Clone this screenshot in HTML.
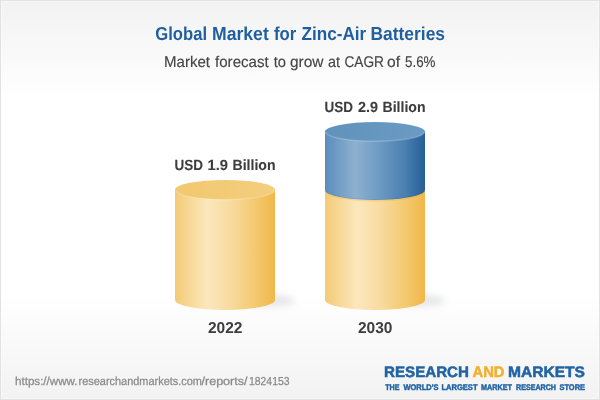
<!DOCTYPE html>
<html><head><meta charset="utf-8"><style>
html,body{margin:0;padding:0;width:600px;height:400px;overflow:hidden;background:#fff}
svg{display:block;will-change:transform}
text{font-family:"Liberation Sans",sans-serif;text-rendering:geometricPrecision}
</style></head><body>
<svg width="600" height="400" viewBox="0 0 600 400">
<defs>
  <linearGradient id="bg" x1="0" y1="0" x2="0" y2="1">
    <stop offset="0" stop-color="#f2f2f2"/>
    <stop offset="0.25" stop-color="#ffffff"/>
    <stop offset="0.74" stop-color="#ffffff"/>
    <stop offset="1" stop-color="#f2f2f2"/>
  </linearGradient>
  <linearGradient id="ySide" x1="0" y1="0" x2="1" y2="0">
    <stop offset="0" stop-color="#f3cb76"/>
    <stop offset="0.32" stop-color="#fce7bd"/>
    <stop offset="0.55" stop-color="#f8dba0"/>
    <stop offset="0.8" stop-color="#f4c96f"/>
    <stop offset="1" stop-color="#f1b74a"/>
  </linearGradient>
  <linearGradient id="yTop" x1="0" y1="0" x2="1" y2="0">
    <stop offset="0" stop-color="#f2c870"/>
    <stop offset="1" stop-color="#f4ce7e"/>
  </linearGradient>
  <linearGradient id="bTop" x1="0" y1="0" x2="1" y2="0">
    <stop offset="0" stop-color="#6092bd"/>
    <stop offset="1" stop-color="#6b9bc3"/>
  </linearGradient>
  <linearGradient id="bSide" x1="0" y1="0" x2="1" y2="0">
    <stop offset="0" stop-color="#5b8dbc"/>
    <stop offset="0.3" stop-color="#8eb0cf"/>
    <stop offset="0.55" stop-color="#6c9ac3"/>
    <stop offset="0.8" stop-color="#4a7fb1"/>
    <stop offset="1" stop-color="#255f98"/>
  </linearGradient>
  <filter id="blur" x="-50%" y="-100%" width="200%" height="300%"><feGaussianBlur stdDeviation="3.5"/></filter>
</defs>
<rect x="0" y="0" width="600" height="400" fill="url(#bg)"/>
<rect x="1.5" y="1.5" width="597" height="397" fill="none" stroke="#ffffff" stroke-opacity="0.4" stroke-width="1"/>
<rect x="0.5" y="0.5" width="599" height="399" fill="none" stroke="#e2e2e2" stroke-width="1"/>

<!-- cylinder 1 (2022) -->
<ellipse cx="268" cy="300.5" rx="27" ry="6" fill="#a2a7b3" fill-opacity="0.27" filter="url(#blur)"/>
<path d="M175 189.8 L175 300 A50 10 0 0 0 275 300 L275 189.8 Z" fill="url(#ySide)"/>
<ellipse cx="225" cy="189.8" rx="50" ry="9.8" fill="url(#yTop)"/>
<path d="M175.8 190.1 A49.2 9.6 0 0 0 274.2 190.1" fill="none" stroke="#fff" stroke-opacity="0.22" stroke-width="1.4"/>

<!-- cylinder 2 (2030) -->
<ellipse cx="418" cy="300.5" rx="27" ry="6" fill="#a2a7b3" fill-opacity="0.27" filter="url(#blur)"/>
<path d="M325 190 L325 300 A50 10 0 0 0 425 300 L425 190 Z" fill="url(#ySide)"/>
<path d="M325 131.6 L325 190 A50 10 0 0 0 425 190 L425 131.6 Z" fill="url(#bSide)"/>
<path d="M325.3 190.8 A49.7 10 0 0 0 424.7 190.8" fill="none" stroke="#e0a020" stroke-opacity="0.22" stroke-width="1.4"/>
<path d="M325.3 189.6 A49.7 10 0 0 0 424.7 189.6" fill="none" stroke="#1a4f80" stroke-opacity="0.12" stroke-width="1"/>
<ellipse cx="375" cy="131.6" rx="50" ry="9.5" fill="url(#bTop)"/>
<path d="M325.8 131.9 A49.2 9.3 0 0 0 424.2 131.9" fill="none" stroke="#fff" stroke-opacity="0.2" stroke-width="1.4"/>

<text x="155.25" y="40" font-size="18.8" font-weight="bold" fill="#1f5f9f" textLength="51.75" lengthAdjust="spacingAndGlyphs">Global</text>
<text x="212.00" y="40" font-size="18.8" font-weight="bold" fill="#1f5f9f" textLength="56.75" lengthAdjust="spacingAndGlyphs">Market</text>
<text x="274.00" y="40" font-size="18.8" font-weight="bold" fill="#1f5f9f" textLength="22.25" lengthAdjust="spacingAndGlyphs">for</text>
<text x="301.50" y="40" font-size="18.8" font-weight="bold" fill="#1f5f9f" textLength="64.75" lengthAdjust="spacingAndGlyphs">Zinc-Air</text>
<text x="370.50" y="40" font-size="18.8" font-weight="bold" fill="#1f5f9f" textLength="74.50" lengthAdjust="spacingAndGlyphs">Batteries</text>
<text x="164.00" y="67" font-size="15.5" fill="#454545" stroke="#454545" stroke-width="0.15" textLength="46.00" lengthAdjust="spacingAndGlyphs">Market</text>
<text x="215.00" y="67" font-size="15.5" fill="#454545" stroke="#454545" stroke-width="0.15" textLength="53.75" lengthAdjust="spacingAndGlyphs">forecast</text>
<text x="273.75" y="67" font-size="15.5" fill="#454545" stroke="#454545" stroke-width="0.15" textLength="12.25" lengthAdjust="spacingAndGlyphs">to</text>
<text x="290.00" y="67" font-size="15.5" fill="#454545" stroke="#454545" stroke-width="0.15" textLength="33.50" lengthAdjust="spacingAndGlyphs">grow</text>
<text x="328.00" y="67" font-size="15.5" fill="#454545" stroke="#454545" stroke-width="0.15" textLength="12.00" lengthAdjust="spacingAndGlyphs">at</text>
<text x="344.50" y="67" font-size="15.5" fill="#454545" stroke="#454545" stroke-width="0.15" textLength="39.50" lengthAdjust="spacingAndGlyphs">CAGR</text>
<text x="387.00" y="67" font-size="15.5" fill="#454545" stroke="#454545" stroke-width="0.15" textLength="13.00" lengthAdjust="spacingAndGlyphs">of</text>
<text x="405.00" y="67" font-size="15.5" fill="#454545" stroke="#454545" stroke-width="0.15" textLength="30.50" lengthAdjust="spacingAndGlyphs">5.6%</text>
<text x="174.50" y="170" font-size="14.7" font-weight="bold" fill="#3d3d3d" stroke="#3d3d3d" stroke-width="0.1" textLength="28.50" lengthAdjust="spacingAndGlyphs">USD</text>
<text x="207.50" y="170" font-size="14.7" font-weight="bold" fill="#3d3d3d" stroke="#3d3d3d" stroke-width="0.1" textLength="20.50" lengthAdjust="spacingAndGlyphs">1.9</text>
<text x="232.50" y="170" font-size="14.7" font-weight="bold" fill="#3d3d3d" stroke="#3d3d3d" stroke-width="0.1" textLength="43.00" lengthAdjust="spacingAndGlyphs">Billion</text>
<text x="324.50" y="112" font-size="14.7" font-weight="bold" fill="#3d3d3d" stroke="#3d3d3d" stroke-width="0.1" textLength="28.50" lengthAdjust="spacingAndGlyphs">USD</text>
<text x="358.00" y="112" font-size="14.7" font-weight="bold" fill="#3d3d3d" stroke="#3d3d3d" stroke-width="0.1" textLength="20.00" lengthAdjust="spacingAndGlyphs">2.9</text>
<text x="382.50" y="112" font-size="14.7" font-weight="bold" fill="#3d3d3d" stroke="#3d3d3d" stroke-width="0.1" textLength="43.00" lengthAdjust="spacingAndGlyphs">Billion</text>
<text x="208.00" y="333" font-size="15.8" font-weight="bold" fill="#3d3d3d" textLength="34.50" lengthAdjust="spacingAndGlyphs">2022</text>
<text x="358.00" y="333" font-size="15.8" font-weight="bold" fill="#3d3d3d" textLength="34.50" lengthAdjust="spacingAndGlyphs">2030</text>
<text x="15.00" y="385" font-size="11.6" fill="#8a8a8a" stroke="#8a8a8a" stroke-width="0.25" textLength="62.50" lengthAdjust="spacingAndGlyphs">https://www.</text>
<text x="78.50" y="385" font-size="11.6" fill="#8a8a8a" stroke="#8a8a8a" stroke-width="0.25" textLength="123.50" lengthAdjust="spacingAndGlyphs">researchandmarkets.com</text>
<text x="201.50" y="385" font-size="11.6" fill="#8a8a8a" stroke="#8a8a8a" stroke-width="0.25" textLength="46.00" lengthAdjust="spacingAndGlyphs">/reports/</text>
<text x="249.00" y="385" font-size="11.6" fill="#8a8a8a" stroke="#8a8a8a" stroke-width="0.25" textLength="40.50" lengthAdjust="spacingAndGlyphs">1824153</text>
<text x="384.00" y="377" font-size="15.2" font-weight="bold" fill="#2164a4" stroke="#2164a4" stroke-width="0.5" textLength="85.00" lengthAdjust="spacingAndGlyphs">RESEARCH</text>
<text x="472.50" y="377" font-size="15.2" font-weight="bold" fill="#f2b02d" stroke="#f2b02d" stroke-width="0.5" textLength="32.00" lengthAdjust="spacingAndGlyphs">AND</text>
<text x="508.00" y="377" font-size="15.2" font-weight="bold" fill="#2164a4" stroke="#2164a4" stroke-width="0.5" textLength="77.00" lengthAdjust="spacingAndGlyphs">MARKETS</text>
<text x="385.20" y="389.5" font-size="8.2" font-weight="bold" fill="#2164a4" stroke="#2164a4" stroke-width="0.45" textLength="14.30" lengthAdjust="spacingAndGlyphs">THE</text>
<text x="403.50" y="389.5" font-size="8.2" font-weight="bold" fill="#2164a4" stroke="#2164a4" stroke-width="0.45" textLength="35.00" lengthAdjust="spacingAndGlyphs">WORLD'S</text>
<text x="441.50" y="389.5" font-size="8.2" font-weight="bold" fill="#2164a4" stroke="#2164a4" stroke-width="0.45" textLength="36.00" lengthAdjust="spacingAndGlyphs">LARGEST</text>
<text x="481.00" y="389.5" font-size="8.2" font-weight="bold" fill="#2164a4" stroke="#2164a4" stroke-width="0.45" textLength="31.00" lengthAdjust="spacingAndGlyphs">MARKET</text>
<text x="516.00" y="389.5" font-size="8.2" font-weight="bold" fill="#2164a4" stroke="#2164a4" stroke-width="0.45" textLength="40.00" lengthAdjust="spacingAndGlyphs">RESEARCH</text>
<text x="559.50" y="389.5" font-size="8.2" font-weight="bold" fill="#2164a4" stroke="#2164a4" stroke-width="0.45" textLength="25.50" lengthAdjust="spacingAndGlyphs">STORE</text>
</svg>
</body></html>
